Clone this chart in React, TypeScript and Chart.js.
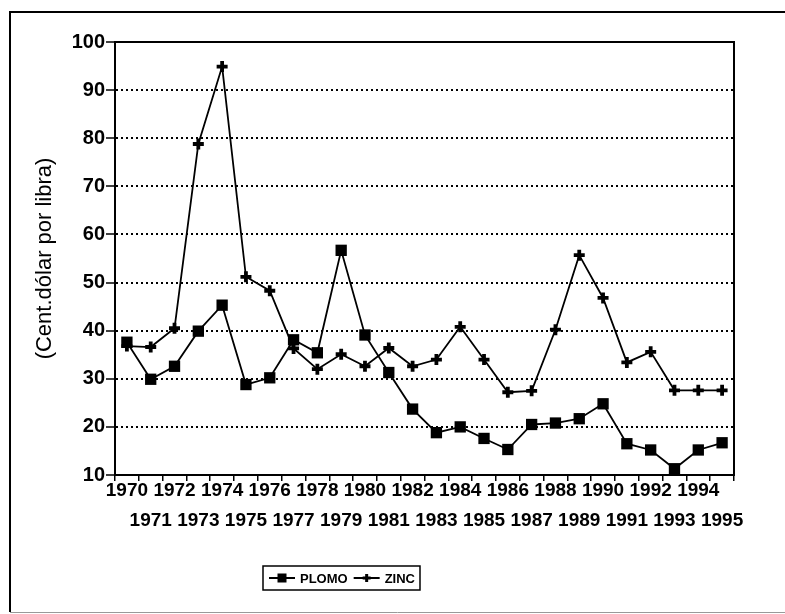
import React, { useEffect, useRef } from 'react';
import { Chart, registerables } from 'chart.js';

Chart.register(...registerables);

const YEARS = [
  '1970', '1971', '1972', '1973', '1974', '1975', '1976', '1977', '1978',
  '1979', '1980', '1981', '1982', '1983', '1984', '1985', '1986', '1987',
  '1988', '1989', '1990', '1991', '1992', '1993', '1994', '1995',
];

const PLOMO = [
  37.6, 29.9, 32.6, 39.9, 45.3, 28.8, 30.2, 38.1, 35.4, 56.7, 39.1, 31.3, 23.7,
  18.8, 20.0, 17.6, 15.3, 20.5, 20.8, 21.7, 24.8, 16.5, 15.2, 11.3, 15.2, 16.7,
];

const ZINC = [
  36.8, 36.6, 40.5, 78.8, 94.9, 51.2, 48.3, 36.3, 32.0, 35.1, 32.6, 36.4, 32.6,
  34.0, 40.8, 34.0, 27.2, 27.5, 40.2, 55.7, 46.8, 33.4, 35.6, 27.6, 27.6, 27.6,
];

const SERIES_NAMES = ['PLOMO', 'ZINC'];
const Y_TITLE = '(Cent.dólar por libra)';
const Y_MIN = 10;
const Y_MAX = 100;
const Y_STEP = 10;

const FONT = "'Liberation Sans', Arial, Helvetica, sans-serif";

function drawMarker(ctx: CanvasRenderingContext2D, style: string, x: number, y: number) {
  ctx.save();
  ctx.fillStyle = '#000';
  ctx.strokeStyle = '#000';
  if (style === 'rect') {
    ctx.fillRect(x - 4.5, y - 4.5, 9, 9);
  } else {
    ctx.lineWidth = 3;
    ctx.beginPath();
    ctx.moveTo(x - 4, y);
    ctx.lineTo(x + 4, y);
    ctx.moveTo(x, y - 4);
    ctx.lineTo(x, y + 4);
    ctx.stroke();
  }
  ctx.restore();
}

const framePlugin = {
  id: 'framePlugin',
  beforeDraw(chart: any) {
    const ctx = chart.ctx as CanvasRenderingContext2D;
    ctx.save();
    ctx.fillStyle = '#fff';
    ctx.fillRect(0, 0, chart.width, chart.height);
    ctx.restore();
  },
  afterDraw(chart: any) {
    const ctx = chart.ctx as CanvasRenderingContext2D;
    const a = chart.chartArea;
    ctx.save();
    // outer frame
    ctx.strokeStyle = '#000';
    ctx.lineWidth = 2;
    ctx.beginPath();
    ctx.moveTo(chart.width, 12);
    ctx.lineTo(10, 12);
    ctx.lineTo(10, 612);
    ctx.stroke();
    ctx.strokeStyle = '#999';
    ctx.lineWidth = 1;
    ctx.beginPath();
    ctx.moveTo(10, 612.5);
    ctx.lineTo(chart.width, 612.5);
    ctx.stroke();
    // plot area frame
    ctx.strokeStyle = '#000';
    ctx.lineWidth = 2;
    ctx.strokeRect(a.left, a.top, a.right - a.left, a.bottom - a.top);

    // legend
    const datasets = chart.data.datasets;
    ctx.font = `bold 13px ${FONT}`;
    ctx.textBaseline = 'middle';
    ctx.textAlign = 'left';
    const lineLen = 26;
    const padL = 6;
    const padR = 5;
    const gapText = 5;
    const gapItem = 6;
    let total = padL + padR;
    datasets.forEach((ds: any, i: number) => {
      total += lineLen + gapText + ctx.measureText(ds.label).width;
      if (i < datasets.length - 1) total += gapItem;
    });
    const boxLeft = 263;
    const boxTop = 566;
    const boxH = 24;
    const cy = boxTop + boxH / 2;
    ctx.lineWidth = 1.5;
    ctx.strokeRect(boxLeft, boxTop, total, boxH);
    let x = boxLeft + padL;
    datasets.forEach((ds: any) => {
      ctx.lineWidth = 2;
      ctx.beginPath();
      ctx.moveTo(x, cy);
      ctx.lineTo(x + lineLen, cy);
      ctx.stroke();
      drawMarker(ctx, ds.pointStyle, x + lineLen / 2, cy);
      x += lineLen + gapText;
      ctx.fillStyle = '#000';
      ctx.fillText(ds.label, x, cy + 1);
      x += ctx.measureText(ds.label).width + gapItem;
    });
    ctx.restore();
  },
};

export default function App() {
  const ref = useRef<HTMLCanvasElement | null>(null);

  useEffect(() => {
    document.body.style.margin = '0';
    const canvas = ref.current;
    if (!canvas) return;

    const xLabels = YEARS.map((y, i) => (i % 2 === 0 ? [y, ''] : ['', y]));

    const chart = new Chart(canvas, {
      type: 'line',
      data: {
        labels: xLabels,
        datasets: [
          {
            label: SERIES_NAMES[0],
            data: PLOMO,
            borderColor: '#000',
            backgroundColor: '#000',
            borderWidth: 1.8,
            pointStyle: 'rect',
            pointRadius: 8,
            pointBorderWidth: 0,
            pointBackgroundColor: '#000',
            tension: 0,
          },
          {
            label: SERIES_NAMES[1],
            data: ZINC,
            borderColor: '#000',
            backgroundColor: '#000',
            borderWidth: 1.8,
            pointStyle: 'cross',
            pointRadius: 5.5,
            pointBorderWidth: 3.8,
            pointBorderColor: '#000',
            tension: 0,
          },
        ],
      },
      options: {
        responsive: false,
        animation: false,
        devicePixelRatio: 1,
        layout: { padding: { left: 0, right: 51, top: 42, bottom: 78 } },
        plugins: {
          legend: { display: false },
          tooltip: { enabled: false },
        },
        scales: {
          x: {
            type: 'category',
            offset: true,
            grid: {
              display: true,
              offset: true,
              drawOnChartArea: false,
              drawTicks: true,
              tickLength: 6,
              color: '#000',
              lineWidth: 1.5,
            },
            border: { display: true, color: '#000', width: 2 },
            ticks: {
              autoSkip: false,
              maxRotation: 0,
              minRotation: 0,
              padding: -5,
              color: '#000',
              font: { family: FONT, size: 19, weight: 'bold', lineHeight: 30 / 19 },
            },
            afterFit: (scale: any) => {
              scale.height = 61;
            },
          },
          y: {
            min: Y_MIN,
            max: Y_MAX,
            grid: {
              color: '#000',
              lineWidth: 2,
              tickLength: 9,
              tickColor: '#000',
              tickWidth: 1.5,
              tickBorderDash: [],
            },
            border: { display: true, color: '#000', width: 2, dash: [2, 3] },
            ticks: {
              stepSize: Y_STEP,
              padding: 1,
              color: '#000',
              font: { family: FONT, size: 20, weight: 'bold' },
            },
            title: {
              display: true,
              text: Y_TITLE,
              color: '#000',
              padding: { top: 32, bottom: 0 },
              font: { family: FONT, size: 22 },
            },
            afterFit: (scale: any) => {
              scale.width = 115;
            },
          },
        },
      },
      plugins: [framePlugin],
    });

    return () => chart.destroy();
  }, []);

  return <canvas ref={ref} width={785} height={614} style={{ display: 'block' }} />;
}
